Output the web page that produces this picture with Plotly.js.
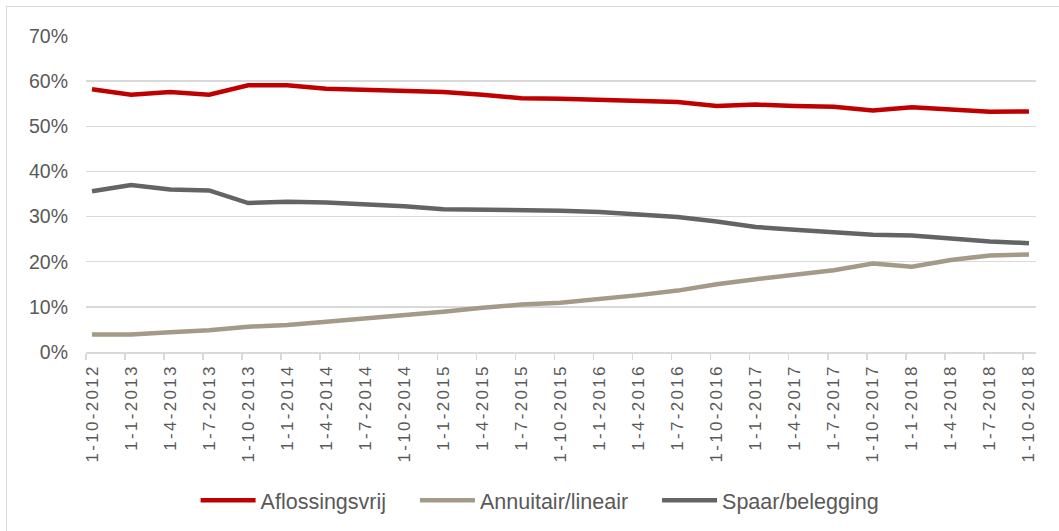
<!DOCTYPE html>
<html>
<head>
<meta charset="utf-8">
<script src="https://cdn.plot.ly/plotly-3.0.1.min.js"></script>
<style>
  html, body { margin: 0; padding: 0; background: #fff; overflow: hidden; }
  #frame { position: absolute; left: 6px; top: 6px; width: 1200px; height: 700px;
           border-left: 1.5px solid #d9d9d9; border-top: 1.5px solid #d9d9d9; }
  #chart { position: absolute; left: 0; top: 0; width: 1059px; height: 531px; }
  .xtick text { letter-spacing: 2.3px; }
</style>
</head>
<body>
<div id="frame"></div>
<div id="chart"></div>
<script>
const categories = ["1-10-2012","1-1-2013","1-4-2013","1-7-2013","1-10-2013","1-1-2014","1-4-2014","1-7-2014","1-10-2014","1-1-2015","1-4-2015","1-7-2015","1-10-2015","1-1-2016","1-4-2016","1-7-2016","1-10-2016","1-1-2017","1-4-2017","1-7-2017","1-10-2017","1-1-2018","1-4-2018","1-7-2018","1-10-2018"];
const seriesNames = ["Aflossingsvrij", "Annuitair/lineair", "Spaar/belegging"];
const aflossingsvrij = [58.2,57.0,57.6,57.0,59.1,59.1,58.3,58.1,57.8,57.6,57.0,56.2,56.1,55.9,55.8,55.4,54.5,54.8,54.5,54.3,53.5,54.2,53.7,53.2,53.3];
const annuitair = [3.9,3.9,4.4,4.8,5.6,6.0,6.7,7.4,8.2,8.9,9.8,10.5,10.9,11.7,12.6,13.6,15.0,16.1,17.1,18.1,19.6,18.9,20.4,21.4,21.6];
const spaar = [35.6,37.0,36.0,35.8,33.0,33.3,33.1,32.7,32.3,31.6,31.5,31.5,31.3,31.0,30.4,29.9,28.9,27.7,27.1,26.6,26.0,25.8,25.1,24.5,24.1];
const yTicks = [0,10,20,30,40,50,60,70];
const yTickText = yTicks.map(v => v + "%");

const idx = categories.map((c, i) => i);
const lineWidth = 4.5;
const pad = "\u00a0\u00a0\u00a0\u00a0";
const traces = [
  {name: seriesNames[0] + pad, x: idx, y: aflossingsvrij, color: "#C00000"},
  {name: seriesNames[1] + pad, x: idx, y: annuitair, color: "#A39A88"},
  {name: seriesNames[2], x: idx, y: spaar, color: "#646464"}
].map(t => ({
  type: "scatter", mode: "lines", name: t.name, x: t.x, y: t.y,
  line: {color: t.color, width: lineWidth, shape: "linear"},
  hoverinfo: "skip"
}));

const layout = {
  width: 1059, height: 531,
  paper_bgcolor: "rgba(0,0,0,0)", plot_bgcolor: "rgba(0,0,0,0)",
  margin: {l: 86, r: 23, t: 36, b: 179},
  font: {family: "Liberation Sans, Arial, sans-serif", color: "#595959"},
  showlegend: true,
  legend: {
    orientation: "h", xref: "container", yref: "container",
    x: 0.51, xanchor: "center", y: 0.058, yanchor: "middle",
    font: {size: 21.5, color: "#595959"},
    itemwidth: 55, traceorder: "normal"
  },
  xaxis: {
    range: [-0.154, 24.18],
    tickmode: "array", tickvals: idx, ticktext: categories,
    tickangle: -90, ticks: "", ticklabelstandoff: 4,
    tickfont: {size: 17, color: "#595959"},
    showgrid: false, zeroline: false,
    showline: true, linecolor: "#d9d9d9", linewidth: 1.5,
    minor: {tick0: -0.154, dtick: 1, ticks: "outside", ticklen: 6, tickwidth: 1.5, tickcolor: "#d9d9d9", showgrid: false},
    fixedrange: true
  },
  yaxis: {
    range: [0, 70], tickmode: "array", tickvals: yTicks, ticktext: yTickText,
    tickfont: {size: 19.5, color: "#595959"},
    showgrid: true, gridcolor: "#d9d9d9", gridwidth: 1.5,
    zeroline: false, showline: false, ticks: "", ticklabelstandoff: 17,
    fixedrange: true
  }
};

Plotly.newPlot("chart", traces, layout, {displayModeBar: false, staticPlot: true});
</script>
</body>
</html>
